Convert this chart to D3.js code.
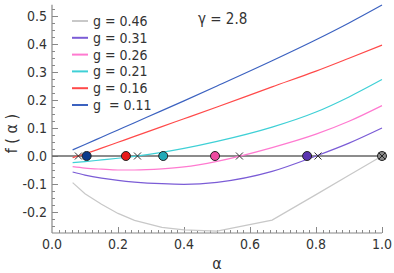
<!DOCTYPE html>
<html>
<head>
<meta charset="utf-8">
<script src="https://cdn.jsdelivr.net/npm/d3@7"></script>
<style>
  body { margin: 0; background: #fff; }
  svg text { font-family: "Liberation Sans Narrow", "DejaVu Sans Condensed", sans-serif; fill: #333; }
</style>
</head>
<body>
<svg id="chart" width="394" height="273"></svg>
<script>
// alpha grid shared by all curves
const alphas = [0.0625, 0.1, 0.15, 0.2, 0.25, 0.333, 0.4, 0.5, 0.667, 0.8, 0.9, 1.0];

const gLabels = ["g = 0.46", "g = 0.31", "g = 0.26", "g = 0.21", "g = 0.16", "g  = 0.11"];
const lineColors = ["#c8c8c8", "#7b5cd6", "#ff7ad0", "#3fd0d6", "#ff4a4a", "#3c62c0"];
const dotColors = ["#8a8a8a", "#5a34b0", "#ee4aa0", "#22aab8", "#e81818", "#0c3a8c"];

const f046 = [-0.095, -0.135, -0.172, -0.205, -0.230, -0.255, -0.264, -0.268, -0.229, -0.138, -0.069, 0.0];
const f031 = [-0.057, -0.068, -0.079, -0.087, -0.093, -0.099, -0.101, -0.094, -0.055, 0.000, 0.046, 0.100];
const f026 = [-0.038, -0.043, -0.047, -0.050, -0.050, -0.046, -0.039, -0.019, 0.030, 0.078, 0.124, 0.180];
const f021 = [-0.024, -0.020, -0.014, -0.008, -0.001, 0.013, 0.027, 0.052, 0.103, 0.157, 0.211, 0.273];
const f016 = [-0.006, 0.008, 0.028, 0.049, 0.070, 0.105, 0.133, 0.175, 0.247, 0.303, 0.349, 0.396];
const f011 = [0.022, 0.041, 0.067, 0.093, 0.119, 0.162, 0.197, 0.250, 0.340, 0.415, 0.475, 0.539];
const seriesValues = [f046, f031, f026, f021, f016, f011];

// dots (circles) and zero crossings (crosses) on the f = 0 line
const dotAlphas = [1.0, 0.773, 0.494, 0.337, 0.224, 0.105];
const crossAlphas = [1.0, 0.806, 0.568, 0.259, 0.08];

const xTicks = [0, 0.2, 0.4, 0.6, 0.8, 1.0];
const yTicks = [-0.2, -0.1, 0.0, 0.1, 0.2, 0.3, 0.4, 0.5];

const svg = d3.select("#chart");
const x = d3.scaleLinear().domain([0, 1]).range([52, 382]);
const y = d3.scaleLinear().domain([-0.275, 0.55]).range([233, 2]);

const axisColor = "#888";

// left axis: inward ticks
const yAxis = svg.append("g");
yAxis.append("line")
    .attr("x1", x(0)).attr("x2", x(0))
    .attr("y1", y(0.54)).attr("y2", y(-0.275))
    .attr("stroke", axisColor).attr("stroke-width", 1.2);
const yMinor = d3.range(-0.25, 0.541, 0.025);
yAxis.selectAll(".ym").data(yMinor).enter().append("line")
    .attr("x1", x(0))
    .attr("x2", d => x(0) + (Math.abs(Math.round(d * 40) % 4) === 0 ? 6 : 3))
    .attr("y1", d => Math.round(y(d)) + 0.5).attr("y2", d => Math.round(y(d)) + 0.5)
    .attr("stroke", axisColor).attr("stroke-width", 1);
yAxis.selectAll(".yl").data(yTicks).enter().append("text")
    .attr("x", 47).attr("y", d => y(d) + 5)
    .attr("text-anchor", "end")
    .attr("font-size", 14)
    .text(d => d3.format(".1f")(d).replace("−", "-"));

// bottom axis: inward ticks
const xAxis = svg.append("g");
xAxis.append("line")
    .attr("x1", x(0)).attr("x2", x(1))
    .attr("y1", y(-0.275)).attr("y2", y(-0.275))
    .attr("stroke", axisColor).attr("stroke-width", 1.2);
const xMinor = d3.range(0.02, 1.001, 0.02);
xAxis.selectAll(".xm").data(xMinor).enter().append("line")
    .attr("x1", d => Math.round(x(d)) + 0.5).attr("x2", d => Math.round(x(d)) + 0.5)
    .attr("y1", y(-0.275))
    .attr("y2", d => y(-0.275) - (Math.round(d * 50) % 10 === 0 ? 6 : 3))
    .attr("stroke", axisColor).attr("stroke-width", 1);
xAxis.selectAll(".xl").data(xTicks).enter().append("text")
    .attr("x", d => x(d)).attr("y", 249)
    .attr("text-anchor", "middle")
    .attr("font-size", 14)
    .text(d => d3.format(".1f")(d));

// axis titles
svg.append("text")
    .attr("transform", "translate(17," + y(0.08) + ") rotate(-90)")
    .attr("text-anchor", "middle")
    .attr("font-size", 16)
    .attr("xml:space", "preserve")
    .style("white-space", "pre")
    .text("f ( α )");
svg.append("text")
    .attr("x", x(0.5)).attr("y", 269)
    .attr("text-anchor", "middle")
    .attr("font-size", 16)
    .text("α");

// zero line
svg.append("line")
    .attr("x1", x(0)).attr("x2", x(1))
    .attr("y1", y(0)).attr("y2", y(0))
    .attr("stroke", "#666").attr("stroke-width", 1.3);

// curves: the g = 0.46 one has clear corners, the rest are smooth
const straight = d3.line().x((d, i) => x(alphas[i])).y(d => y(d));
const smooth = d3.line().x((d, i) => x(alphas[i])).y(d => y(d)).curve(d3.curveMonotoneX);
svg.selectAll(".curve").data(seriesValues).enter().append("path")
    .attr("d", (d, i) => i === 0 ? straight(d) : smooth(d))
    .attr("fill", "none")
    .attr("stroke", (d, i) => lineColors[i])
    .attr("stroke-width", 1.2);

// crosses at zero crossings
const cs = 3.5;
const crosses = svg.selectAll(".cross").data(crossAlphas).enter().append("g")
    .attr("transform", d => "translate(" + x(d) + "," + y(0) + ")");
crosses.append("path")
    .attr("d", `M${-cs},${-cs}L${cs},${cs}M${-cs},${cs}L${cs},${-cs}`)
    .attr("stroke", "#333").attr("stroke-width", 1);

// circles
const dots = svg.selectAll(".dot").data(dotAlphas).enter().append("g")
    .attr("transform", d => "translate(" + x(d) + "," + y(0) + ")");
dots.append("circle")
    .attr("r", 4.5)
    .attr("fill", (d, i) => dotColors[i])
    .attr("stroke", "#222").attr("stroke-width", 1);
// gray dot at alpha = 1 carries a cross inside
dots.filter((d, i) => i === 0).append("path")
    .attr("d", "M-3,-3L3,3M-3,3L3,-3")
    .attr("stroke", "#222").attr("stroke-width", 1);

// legend
const legend = svg.append("g");
const rowY = i => 21 + i * 16.8;
legend.selectAll(".ll").data(gLabels).enter().append("line")
    .attr("x1", 72).attr("x2", 88)
    .attr("y1", (d, i) => rowY(i)).attr("y2", (d, i) => rowY(i))
    .attr("stroke", (d, i) => lineColors[i])
    .attr("stroke-width", 2);
legend.selectAll(".lt").data(gLabels).enter().append("text")
    .attr("x", 93).attr("y", (d, i) => rowY(i) + 5)
    .attr("font-size", 14)
    .attr("xml:space", "preserve")
    .style("white-space", "pre")
    .text(d => d);

svg.append("text")
    .attr("x", 198).attr("y", 24)
    .attr("font-size", 15)
    .text("γ = 2.8");
</script>
</body>
</html>
